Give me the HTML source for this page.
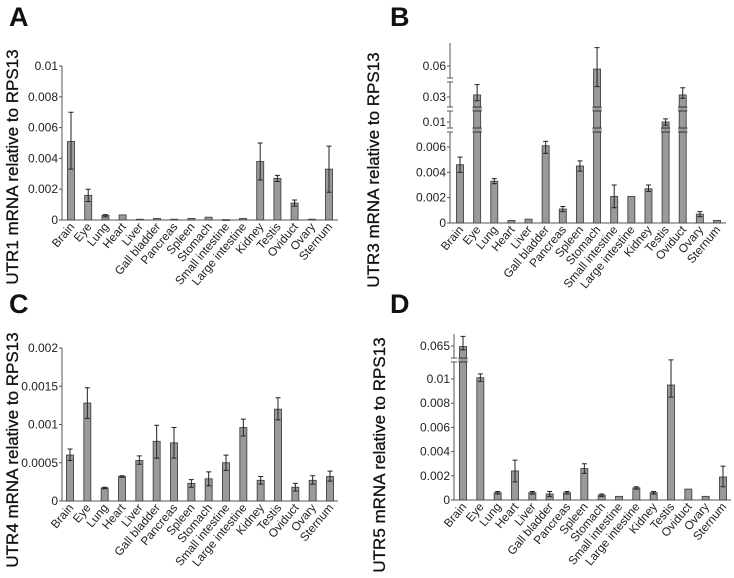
<!DOCTYPE html>
<html><head><meta charset="utf-8"><style>
html,body{margin:0;padding:0;background:#fff;}
svg{display:block;font-family:"Liberation Sans",Arial,sans-serif;}
</style></head><body>
<svg id="c" width="734" height="578" viewBox="0 0 734 578"></svg>
<script>
const categories=["Brain","Eye","Lung","Heart","Liver","Gall bladder","Pancreas","Spleen","Stomach","Small intestine","Large intestine","Kidney","Testis","Oviduct","Ovary","Sternum"];
const utr1Values=[0.0051,0.0016,0.0003,0.00033,0.00005,0.0001,0.00005,0.0001,0.00018,0.00002,0.0001,0.0038,0.0027,0.0011,0.00005,0.0033];
const utr1Hi=[0.007,0.002,0.00035,0.00035,0.00005,0.0001,0.00005,0.00012,0.0002,0.00002,0.00012,0.005,0.0029,0.0013,0.00005,0.0048];
const utr1Lo=[0.0033,0.0012,0.0002,0.0003,0.00005,0.0001,0.00005,0.00008,0.00015,0.00002,0.00008,0.0026,0.0025,0.0009,0.00005,0.0018];
const utr3Values=[0.0046,0.032,0.0033,0.0002,0.0003,0.0062,0.0011,0.0045,0.057,0.0021,0.0021,0.0027,0.010,0.032,0.0007,0.0002];
const utr3Hi=[0.0052,0.042,0.0035,0.0002,0.0003,0.0069,0.0013,0.0049,0.072,0.003,0.0021,0.003,0.0125,0.039,0.0009,0.0002];
const utr3Lo=[0.004,0.027,0.0031,0.0002,0.0003,0.0055,0.0009,0.0041,0.04,0.0012,0.0021,0.0025,0.0095,0.029,0.0005,0.0002];
const utr4Values=[0.0006,0.00128,0.00017,0.00032,0.00053,0.00078,0.00076,0.00023,0.00029,0.0005,0.00096,0.00027,0.0012,0.00018,0.00027,0.00032];
const utr4Hi=[0.00068,0.00148,0.00018,0.00033,0.00059,0.00099,0.00096,0.00028,0.00038,0.0006,0.00107,0.00032,0.00135,0.00023,0.00033,0.00039];
const utr4Lo=[0.00053,0.00108,0.00016,0.00031,0.00048,0.00056,0.00056,0.00018,0.0002,0.0004,0.00085,0.00022,0.00106,0.00013,0.00022,0.00026];
const utr5Values=[0.063,0.0101,0.0006,0.0024,0.0006,0.0005,0.0006,0.0026,0.0004,0.0003,0.001,0.0006,0.0095,0.0009,0.0003,0.0019];
const utr5Hi=[0.073,0.0104,0.0007,0.0033,0.0007,0.0007,0.0007,0.003,0.0005,0.0003,0.0011,0.0007,0.0118,0.0009,0.0003,0.0028];
const utr5Lo=[0.05,0.0098,0.0005,0.0015,0.0005,0.0003,0.0005,0.0022,0.0003,0.0003,0.0009,0.0005,0.0085,0.0009,0.0003,0.0011];
const ticksA=["0","0.002","0.004","0.006","0.008","0.01"];
const ticksB=["0","0.002","0.004","0.006","0.01","0.03","0.06"];
const ticksC=["0","0.0005","0.001","0.0015","0.002"];
const ticksD=["0","0.002","0.004","0.006","0.008","0.01","0.065"];

const NS="http://www.w3.org/2000/svg";
const svg=document.getElementById('c');
function mk(tag,attrs,parent){const e=document.createElementNS(NS,tag);for(const k in attrs)e.setAttribute(k,attrs[k]);(parent||svg).appendChild(e);return e;}
function pw(kv,ky){return v=>{for(let i=1;i<kv.length;i++){if(v<=kv[i]||i==kv.length-1){const t=(v-kv[i-1])/(kv[i]-kv[i-1]);return ky[i-1]+t*(ky[i]-ky[i-1]);}}};}

function panel(o){
  const g=mk('g',{});
  
  
  const y=o.y;
  const lab=mk('text',{x:o.lx,y:o.ly,'font-size':27,'font-weight':'bold',fill:'#111'},g);
  lab.textContent=o.letter;
  
  
  const tt=mk('text',{transform:`translate(${o.tx},${o.ty}) rotate(-90)`,'text-anchor':'middle','font-size':17,fill:'#111','stroke':'#111','stroke-width':0.3},g);
  tt.textContent=o.title;
  
  
  const y0=y(0);
  const ax=mk('line',{x1:o.ax,y1:o.top,x2:o.ax,y2:y0,stroke:'#555','stroke-width':1},g);
  
  
  const xl=mk('line',{x1:o.ax,y1:y0,x2:o.right,y2:y0,stroke:'#555','stroke-width':1},g);
  
  
  o.ticks.forEach(t=>{
    const v=parseFloat(t),yy=y(v);
    mk('line',{x1:o.ax-3,y1:yy,x2:o.ax,y2:yy,stroke:'#555'},g);
    const tx=mk('text',{x:o.ax-4,y:yy+4,'text-anchor':'end','font-size':12,fill:'#222'},g);
    tx.textContent=t;
    
    
  });
  (o.axBreaks||[]).forEach(b=>{
    mk('rect',{x:o.ax-3,y:b-2,width:6,height:4,fill:'#fff'},g);
    mk('line',{x1:o.ax-3,y1:b-2,x2:o.ax+3,y2:b-2,stroke:'#555'},g);
    mk('line',{x1:o.ax-3,y1:b+2,x2:o.ax+3,y2:b+2,stroke:'#555'},g);
  });
  const step=(o.x1-o.x0)/(categories.length-1),bw=7;
  categories.forEach((c,i)=>{
    const cx=o.x0+i*step,v=o.vals[i],yt=y(v);
    const r=mk('rect',{x:cx-bw/2,y:yt,width:bw,height:Math.max(y0-yt,0.8),fill:'#9a9a9a',stroke:'#444','stroke-width':0.9},g);
    
    
    (o.barBreaks||[]).forEach(b=>{ if(yt<b-3){
      mk('rect',{x:cx-bw/2-1,y:b-2,width:bw+2,height:4,fill:'#9a9a9a'},g);
      mk('line',{x1:cx-bw/2-1,y1:b-2,x2:cx+bw/2+1,y2:b-2,stroke:'#333','stroke-width':1},g);
      mk('line',{x1:cx-bw/2-1,y1:b+2,x2:cx+bw/2+1,y2:b+2,stroke:'#333','stroke-width':1},g);
    }});
    const yh=y(o.hi[i]),yl=y(o.lo[i]);
    if(Math.abs(yh-yl)>1){
      const e=mk('path',{d:`M${cx},${yh}V${yl}M${cx-2.5},${yh}H${cx+2.5}M${cx-2.5},${yl}H${cx+2.5}`,stroke:'#222','stroke-width':1,fill:'none'},g);
      
      
    }
    const t=mk('text',{transform:`translate(${cx+4},${y0+7}) rotate(-50)`,'text-anchor':'end','font-size':11.8,fill:'#222'},g);
    t.textContent=c;
    
    
  });
}
panel({id:'utr1',letter:'A',lx:9,ly:26,title:'UTR1 mRNA relative to RPS13',tx:18,ty:167,ax:62,top:66,right:338,x0:71,x1:329,
  y:pw([0,0.01],[220,66]),ticks:ticksA,vals:utr1Values,hi:utr1Hi,lo:utr1Lo});
panel({id:'utr3',letter:'B',lx:390,ly:26,title:'UTR3 mRNA relative to RPS13',tx:379,ty:170,ax:450,top:43,right:726,x0:460,x1:717,
  y:pw([0,0.006,0.01,0.03,0.06,0.075],[223,147,122,97,66,43]),ticks:ticksB,vals:utr3Values,hi:utr3Hi,lo:utr3Lo,
  axBreaks:[80,109,130],barBreaks:[109,130]});
panel({id:'utr4',letter:'C',lx:9,ly:313,title:'UTR4 mRNA relative to RPS13',tx:18,ty:450,ax:62,top:348,right:338,x0:70,x1:330,
  y:pw([0,0.002],[501,348]),ticks:ticksC,vals:utr4Values,hi:utr4Hi,lo:utr4Lo});
panel({id:'utr5',letter:'D',lx:390,ly:313,title:'UTR5 mRNA relative to RPS13',tx:385,ty:455,ax:454,top:334,right:731,x0:463,x1:723,
  y:pw([0,0.01,0.0115,0.065,0.075],[500,379,360,346,334]),ticks:ticksD,vals:utr5Values,hi:utr5Hi,lo:utr5Lo,
  axBreaks:[360],barBreaks:[360]});
</script>
</body></html>
